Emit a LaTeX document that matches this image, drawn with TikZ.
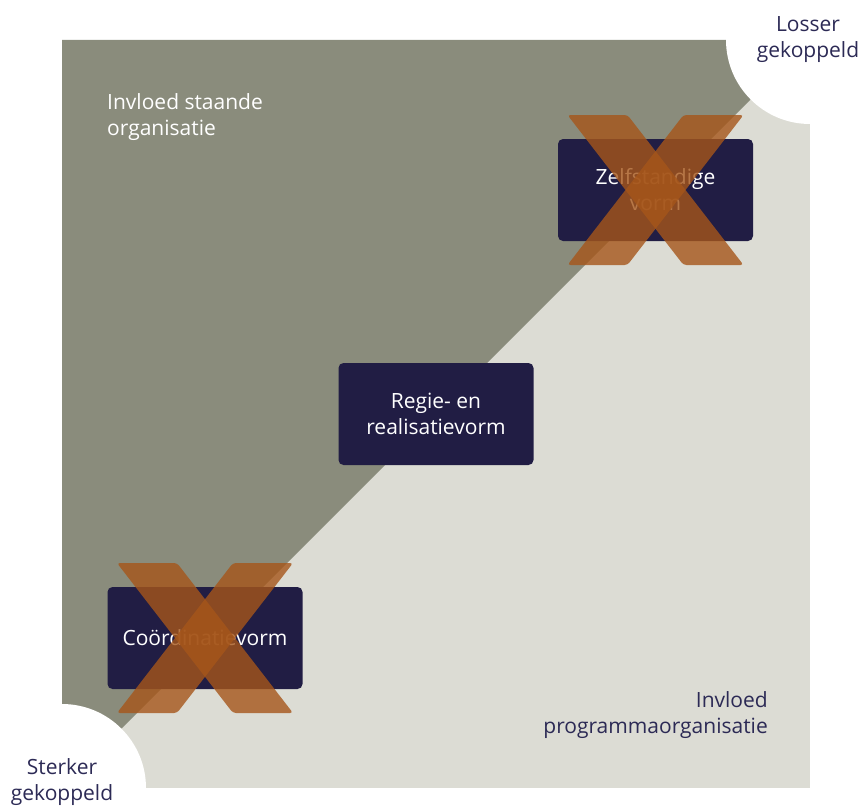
\documentclass[tikz,border=0pt]{standalone}
\usepackage{fontspec}
\setmainfont{Open Sans}
\definecolor{donker}{HTML}{8A8C7C}
\definecolor{licht}{HTML}{DCDCD4}
\definecolor{nachtblauw}{HTML}{211D44}
\definecolor{inkt}{HTML}{2C2A55}
\definecolor{oranje}{RGB}{166,86,26}
\begin{document}
\begin{tikzpicture}[x=1pt, y=-1pt,
  every node/.style = {inner sep=0pt, font=\fontsize{21}{26}\selectfont},
  vorm/.style = {shape=rectangle, rounded corners=5pt, fill=nachtblauw,
    text=white, align=center, minimum width=195pt, minimum height=102pt},
  kruis/.style = {fill=oranje, fill opacity=0.8, rounded corners=3pt}]
  \useasboundingbox (0,0) rectangle (864,808);
  % vlakken
  \fill[licht] (62,40) rectangle (810,788);
  \fill[donker] (62,40) -- (810,40) -- (62,788) -- cycle;
  \fill[white] (810,40) circle (84);
  \fill[white] (62,788) circle (84);
  % labels
  \node[anchor=north, align=center, text=inkt] (losser) at (808,16) {Losser\\gekoppeld};
  \node[anchor=north, align=center, text=inkt] (sterker) at (62,758) {Sterker\\gekoppeld};
  \node[anchor=north west, align=left, text=white] (staande) at (107,93) {Invloed staande\\organisatie};
  \node[anchor=north east, align=right, text=inkt] (programma) at (768,691) {Invloed\\programmaorganisatie};
  % vormen
  \node[vorm] (zelf) at (655.5,190) {Zelfstandige\\vorm};
  \node[vorm] (regie) at (436,414) {Regie- en\\realisatievorm};
  \node[vorm] (coord) at (205,638) {Coördinatievorm};
  % kruizen
  \foreach \b in {zelf,coord} {
    \fill[kruis] ([shift={(-88,-75)}]\b.center) -- ++(60,0) -- ++(116,150) -- ++(-60,0) -- cycle;
    \fill[kruis] ([shift={(88,-75)}]\b.center) -- ++(-60,0) -- ++(-116,150) -- ++(60,0) -- cycle;
  }
\end{tikzpicture}
\end{document}
